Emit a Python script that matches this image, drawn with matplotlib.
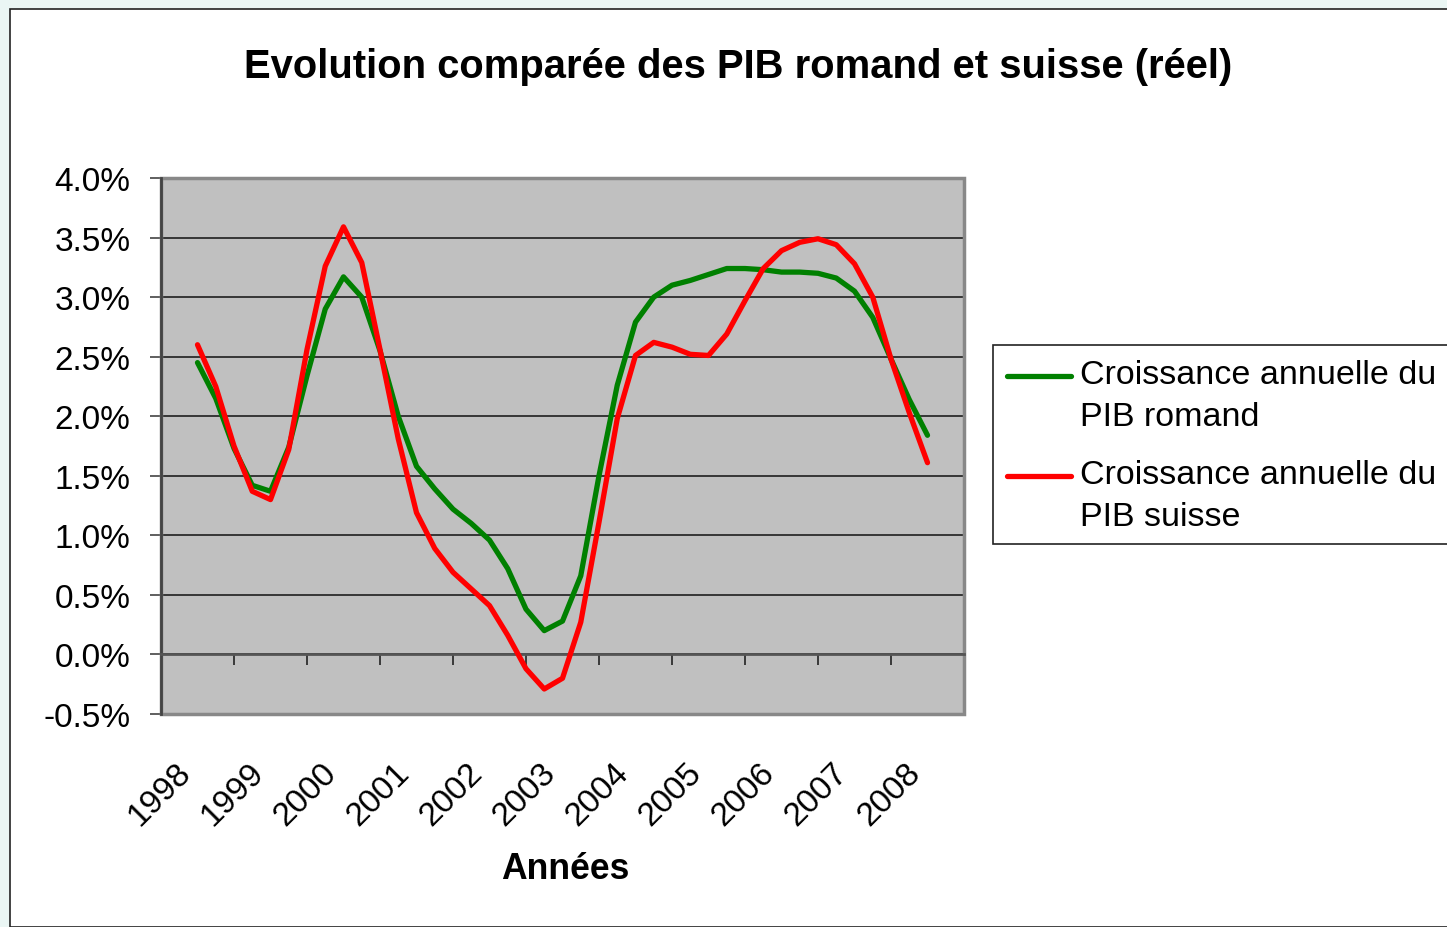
import numpy as np
import matplotlib.pyplot as plt
from matplotlib.patches import Rectangle
from matplotlib.lines import Line2D
from matplotlib.transforms import blended_transform_factory

plt.rcParams['font.family'] = ['Liberation Sans', 'DejaVu Sans']

years = ['1998', '1999', '2000', '2001', '2002', '2003', '2004', '2005', '2006', '2007', '2008']

# quarterly readings (%), from 1998 to 2008
romand = [2.45, 2.15, 1.73, 1.42, 1.37, 1.74, 2.34, 2.90, 3.17, 3.00, 2.55,
          2.00, 1.58, 1.39, 1.22, 1.10, 0.96, 0.72, 0.38, 0.20, 0.28, 0.66,
          1.50, 2.26, 2.79, 3.00, 3.10, 3.14, 3.19, 3.24, 3.24, 3.23, 3.21,
          3.21, 3.20, 3.16, 3.05, 2.83, 2.48, 2.14, 1.84]
suisse = [2.60, 2.25, 1.75, 1.37, 1.30, 1.72, 2.56, 3.26, 3.59, 3.29, 2.56,
          1.81, 1.19, 0.89, 0.69, 0.55, 0.41, 0.16, -0.12, -0.29, -0.20, 0.27,
          1.11, 1.98, 2.51, 2.62, 2.58, 2.52, 2.51, 2.69, 2.97, 3.24, 3.39,
          3.46, 3.49, 3.44, 3.28, 3.00, 2.48, 2.03, 1.61]
series_names = ['Croissance annuelle du\nPIB romand', 'Croissance annuelle du\nPIB suisse']
colors = ['#008000', '#ff0000']

W, H = 1447, 928
fig = plt.figure(figsize=(W / 100, H / 100), dpi=100, facecolor='#eaf6f4')
fig.patches.append(Rectangle((10 / W, 0), 1, 1 - 10 / H, transform=fig.transFigure,
                             facecolor='white', edgecolor='#222222', lw=1.2, zorder=-10))

ax = fig.add_axes([161 / W, 1 - 715 / H, (964 - 161) / W, (715 - 179) / H])
ax.set_facecolor('#c0c0c0')

x = np.arange(len(romand)) / 4
for vals, name, c in zip([romand, suisse], series_names, colors):
    ax.plot(x, vals, color=c, lw=3.8, label=name, zorder=4,
            solid_joinstyle='round', solid_capstyle='round')

ax.set_xlim(-0.5, len(years) - 0.5)
ax.set_ylim(-0.5, 4.0)
yt = np.arange(-0.5, 4.01, 0.5)
ax.set_yticks(yt)
ax.set_yticklabels(['%.1f%%' % v for v in yt], fontsize=24)
ax.grid(axis='y', color='#111111', lw=1.1)
ax.set_axisbelow(True)

# frame
for s in ['top', 'right']:
    ax.spines[s].set_visible(False)
ax.add_patch(Rectangle((0, 0), 1, 1, transform=ax.transAxes, fill=False,
                       edgecolor='#888888', lw=2.5, zorder=2, clip_on=False))
ax.spines['left'].set_color('#444444')
ax.spines['left'].set_linewidth(2)
ax.spines['bottom'].set_position(('data', 0))
ax.spines['bottom'].set_color('#555555')
ax.spines['bottom'].set_linewidth(2)
ax.tick_params(axis='y', length=8, width=1.2, color='#444444', pad=14)

ax.set_xticks(np.arange(len(years) + 1) - 0.5)
ax.set_xticklabels([])
ax.tick_params(axis='x', length=8, width=1.2, color='#222222', direction='out')

tr = blended_transform_factory(ax.transData, ax.transAxes)
for i, yr in enumerate(years):
    ax.text(i - 0.16, -0.10, yr, transform=tr, rotation=45, rotation_mode='anchor',
            ha='right', va='center', fontsize=24)

fig.text(738 / W, 1 - 67 / H, 'Evolution comparée des PIB romand et suisse (réel)',
         ha='center', va='center', fontsize=28.8, fontweight='bold')
fig.text(565 / W, 1 - 870 / H, 'Années', ha='center', va='center',
         fontsize=25.6, fontweight='bold')

# legend box (runs off the right edge like the original)
fig.patches.append(Rectangle((993 / W, 1 - 545 / H), 0.5, (545 - 346) / H,
                             transform=fig.transFigure, facecolor='white',
                             edgecolor='#222222', lw=1.2, zorder=5))
for j, (name, c) in enumerate(zip(series_names, colors)):
    ytop = 374 + j * 100
    fig.add_artist(Line2D([1007 / W, 1071 / W], [1 - (ytop + 3) / H] * 2, color=c,
                          lw=3.8, solid_capstyle='round', zorder=6))
    fig.text(1080 / W, 1 - (ytop - 14) / H, name, ha='left', va='top',
             fontsize=24.5, linespacing=1.45, zorder=6)

fig.savefig('out.png', dpi=100, facecolor=fig.get_facecolor())
